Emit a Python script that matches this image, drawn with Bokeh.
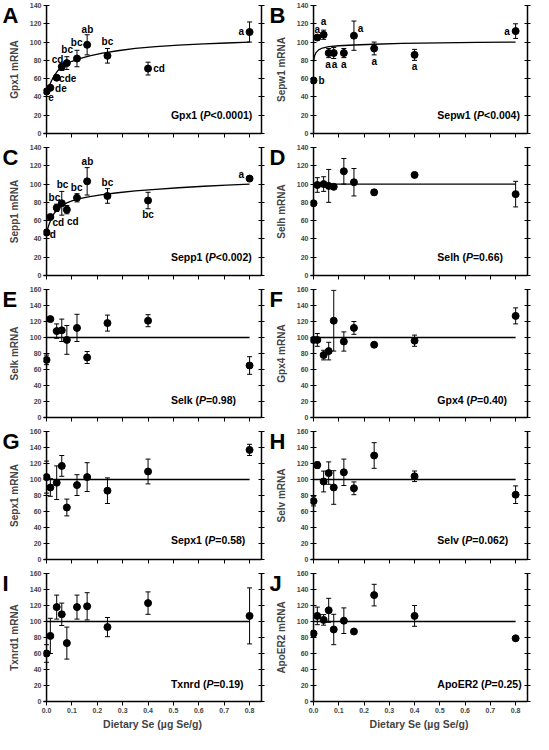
from bokeh.plotting import figure
from bokeh.models import (ColumnDataSource, Whisker, TeeHead, LinearAxis,
                          FixedTicker, Range1d, Span)
from bokeh.layouts import gridplot
from bokeh.core.properties import value
from bokeh.embed import file_html
from bokeh.resources import INLINE

# ---------------- data ----------------
dietary_se = [0.0, 0.015, 0.04, 0.06, 0.08, 0.12, 0.16, 0.24, 0.40, 0.80]
x_ticks = [0.0, 0.1, 0.2, 0.3, 0.4, 0.5, 0.6, 0.7, 0.8]
x_tick_labels = ["0.0", "0.1", "0.2", "0.3", "0.4", "0.5", "0.6", "0.7", "0.8"]

gpx1 = [46, 50, 61, 73, 77, 82, 97, 85, 71, 111]
gpx1_err = [2, 2, 2, 4, 7, 9, 11, 8, 7, 11]
gpx1_letters = ["e", "de", "cde", "cd", "bc", "bc", "ab", "bc", "cd", "a"]
gpx1_fit_x = [0, 0.01, 0.02, 0.03, 0.045, 0.06, 0.08, 0.1, 0.13, 0.17, 0.22, 0.28, 0.35, 0.43, 0.52, 0.62, 0.71, 0.8]
gpx1_fit_y = [45, 52, 58, 63, 69, 73, 76.5, 79, 82, 85, 88, 90.5, 93, 95, 96.7, 98, 99, 100]

sepw1 = [58, 105, 108, 88, 88, 88, 107, 93, 86, 112]
sepw1_err = [2, 2, 5, 5, 6, 5, 16, 7, 6, 8]
sepw1_letters = ["b", "a", "a", "a", "a", "a", "a", "a", "a", "a"]
sepw1_fit_x = [0, 0.002, 0.005, 0.01, 0.02, 0.035, 0.06, 0.1, 0.16, 0.24, 0.35, 0.5, 0.65, 0.8]
sepw1_fit_y = [78, 82, 85.5, 88.5, 91.5, 93.5, 95, 96, 96.8, 97.6, 98.5, 99.2, 99.7, 100]

sepp1 = [47, 64, 74, 79, 72, 85, 103, 87, 82, 106]
sepp1_err = [3, 2, 4, 13, 4.5, 4.5, 15, 8, 9, 2]
sepp1_letters = ["d", "cd", "bc", "bc", "cd", "bc", "ab", "bc", "bc", "a"]
sepp1_fit_x = [0, 0.01, 0.02, 0.03, 0.045, 0.06, 0.08, 0.1, 0.13, 0.17, 0.22, 0.28, 0.35, 0.43, 0.52, 0.62, 0.71, 0.8]
sepp1_fit_y = [47, 56, 63, 68, 73, 76.5, 79.5, 81.5, 84, 86.3, 88.5, 90.5, 92.5, 94.3, 96, 97.6, 98.8, 100]

selh = [79, 99, 100, 98, 97, 114, 102, 91, 110, 89]
selh_err = [2, 8, 8, 18, 2, 14, 15, 3, 0, 14]

selk = [72, 123, 108, 109, 97, 112, 75, 118, 121, 65]
selk_err = [6, 3, 9, 14, 18, 17, 7.5, 10, 7.5, 11]

gpx4 = [97, 97, 78, 83, 121, 95, 112, 91, 96, 127]
gpx4_err = [3, 8, 6, 11, 38, 12, 8, 0, 7, 10]

sepx1 = [103, 90, 96, 117, 65, 93, 103, 86, 110, 137]
sepx1_err = [20, 11, 21, 13, 10.5, 13, 18, 16, 15.5, 7]

selv = [73, 118, 97.5, 108, 90, 109, 89, 130, 104, 81]
selv_err = [6, 4, 13, 14, 21, 16.5, 8, 16, 6.6, 11]

txnrd1 = [60, 82, 118, 109, 73, 118, 119, 93, 123, 107]
txnrd1_err = [11, 22, 15, 14, 20, 15, 17, 12, 14, 35]

apoer2 = [85, 107, 102, 114, 90, 101, 87.5, 133, 107, 79]
apoer2_err = [3, 11, 6.6, 15, 19, 16, 0, 13.5, 13, 0]

ref_x = [0.0, 0.8]
ref_y = [100, 100]

# ---------------- styling helpers ----------------
FONT = "Liberation Sans"
# Arial/Liberation Sans Bold advance widths (per 1000 em)
W = {' ': 278, '(': 333, ')': 333, '.': 278, '<': 584, '=': 584, 'A': 722, 'E': 667,
     'G': 778, 'P': 667, 'R': 722, 'S': 667, 'T': 611, 'd': 611, 'e': 556, 'h': 611,
     'k': 556, 'l': 278, 'n': 611, 'o': 611, 'p': 611, 'r': 389, 'v': 556, 'w': 778,
     'x': 556}
for _d in "0123456789":
    W[_d] = 556


def tw(s, size):
    return sum(W.get(c, 556) for c in s) * size / 1000.0


# label offsets (screen px) for significance letters
offs_A = [(4.5, 6), (10.5, 0.7), (11, 0.3), (-4.3, -7.7), (0.3, -13.5), (-0.3, -16.5),
          (0.3, -15), (0, -14), (11, 0), (-8.3, -0.3)]
offs_B = [(8, 0), (0, -7.7), (0, -13), (-0.7, 11.5), (0.7, 11.5), (0, 11.5),
          (6.7, -6.7), (0, 13), (0, 11.5), (-8.5, 0)]
offs_C = [(6.3, 2.3), (8, 5.7), (-2.3, -10.3), (0.7, -18.5), (6, 11.5), (-0.3, -10.5),
          (0.3, -19.5), (0, -13.5), (0, 13.5), (-8.3, -4.3)]

panels = [
    dict(letter="A", name="Gpx1 (", op="<0.0001)", ylabel="Gpx1 mRNA", y=gpx1, e=gpx1_err,
         ymax=140, fx=gpx1_fit_x, fy=gpx1_fit_y, lab=gpx1_letters, offs=offs_A, ty=20.4),
    dict(letter="B", name="Sepw1 (", op="<0.004)", ylabel="Sepw1 mRNA", y=sepw1, e=sepw1_err,
         ymax=140, fx=sepw1_fit_x, fy=sepw1_fit_y, lab=sepw1_letters, offs=offs_B, ty=20.4),
    dict(letter="C", name="Sepp1 (", op="<0.002)", ylabel="Sepp1 mRNA", y=sepp1, e=sepp1_err,
         ymax=140, fx=sepp1_fit_x, fy=sepp1_fit_y, lab=sepp1_letters, offs=offs_C, ty=20.4),
    dict(letter="D", name="Selh (", op="=0.66)", ylabel="Selh mRNA", y=selh, e=selh_err,
         ymax=140, fx=ref_x, fy=ref_y, lab=None, offs=None, ty=20),
    dict(letter="E", name="Selk (", op="=0.98)", ylabel="Selk mRNA", y=selk, e=selk_err,
         ymax=160, fx=ref_x, fy=ref_y, lab=None, offs=None, ty=22),
    dict(letter="F", name="Gpx4 (", op="=0.40)", ylabel="Gpx4 mRNA", y=gpx4, e=gpx4_err,
         ymax=160, fx=ref_x, fy=ref_y, lab=None, offs=None, ty=22),
    dict(letter="G", name="Sepx1 (", op="=0.58)", ylabel="Sepx1 mRNA", y=sepx1, e=sepx1_err,
         ymax=160, fx=ref_x, fy=ref_y, lab=None, offs=None, ty=24.5),
    dict(letter="H", name="Selv (", op="=0.062)", ylabel="Selv mRNA", y=selv, e=selv_err,
         ymax=160, fx=ref_x, fy=ref_y, lab=None, offs=None, ty=24.5),
    dict(letter="I", name="Txnrd (", op="=0.19)", ylabel="Txnrd1 mRNA", y=txnrd1, e=txnrd1_err,
         ymax=160, fx=ref_x, fy=ref_y, lab=None, offs=None, ty=22),
    dict(letter="J", name="ApoER2 (", op="=0.25)", ylabel="ApoER2 mRNA", y=apoer2, e=apoer2_err,
         ymax=160, fx=ref_x, fy=ref_y, lab=None, offs=None, ty=22),
]

FRAME_H = 128
TXT_SIZE = 10.5
X_LO, X_HI = -0.012, 0.847   # frame starts 3px left of x=0 so markers at x=0 are not clipped


def make_panel(i, d):
    col = i % 2
    bottom = i >= 8
    w = 267 if col == 0 else 266
    h = 166 if bottom else 142
    fw = 218 if col == 0 else 217
    p = figure(width=w, height=h, output_backend="svg", toolbar_location=None,
               x_range=Range1d(X_LO, X_HI), y_range=Range1d(0, d["ymax"]),
               min_border_left=43, min_border_right=w - 43 - fw,
               min_border_top=5, min_border_bottom=h - 5 - FRAME_H)
    p.outline_line_color = None
    p.grid.visible = False
    p.background_fill_color = "white"
    p.border_fill_color = "white"

    # panel letter as the figure title, pulled down beside the frame
    p.title.text = d["letter"]
    p.title.text_font = FONT
    p.title.text_font_style = "bold"
    p.title.text_font_size = "22px"
    p.title.text_color = "black"
    p.title.align = "left"
    p.title.vertical_align = "bottom"
    p.title.offset = -41
    try:
        p.title.standoff = -44
    except Exception:
        pass

    yt = list(range(0, d["ymax"] + 1, 20))

    xa = p.xaxis[0]
    xa.ticker = FixedTicker(ticks=x_ticks)
    xa.major_tick_in = 0
    xa.major_tick_out = 4
    xa.minor_tick_line_color = None
    xa.axis_line_width = 1.5
    xa.major_tick_line_width = 1
    xa.major_label_text_font = FONT
    xa.major_label_text_font_style = "bold"
    xa.major_label_text_font_size = "7px"
    xa.major_label_standoff = 2
    if bottom:
        xa.major_label_overrides = {t: s for t, s in zip(x_ticks, x_tick_labels)}
        xa.axis_label = "Dietary Se (\u00b5g Se/g)"
        xa.axis_label_text_font = FONT
        xa.axis_label_text_font_style = "bold"
        xa.axis_label_text_font_size = "10.5px"
        xa.axis_label_standoff = 2
    else:
        xa.major_label_overrides = {t: "" for t in x_ticks}

    # left axis: line drawn as a span at x=0, ticks cross that line
    ya = p.yaxis[0]
    ya.ticker = FixedTicker(ticks=yt)
    ya.major_tick_in = 6
    ya.major_tick_out = 0
    ya.minor_tick_line_color = None
    ya.axis_line_color = None
    ya.major_label_text_font = FONT
    ya.major_label_text_font_style = "bold"
    ya.major_label_text_font_size = "7px"
    ya.major_label_standoff = 2
    ya.axis_label = d["ylabel"]
    ya.axis_label_text_font = FONT
    ya.axis_label_text_font_style = "bold"
    ya.axis_label_text_font_size = "10px"
    ya.axis_label_standoff = 7
    p.add_layout(Span(location=0, dimension="height", line_color="black", line_width=1.5))

    ra = LinearAxis(ticker=FixedTicker(ticks=yt), major_tick_in=3, major_tick_out=3,
                    minor_tick_line_color=None, axis_line_width=1.5,
                    major_label_overrides={t: "" for t in yt},
                    major_label_text_font_size="7px", major_label_standoff=0)
    p.add_layout(ra, "right")

    # fit / reference line
    p.line(d["fx"], d["fy"], line_color="black", line_width=1.3)

    lower = [v - e for v, e in zip(d["y"], d["e"])]
    upper = [v + e for v, e in zip(d["y"], d["e"])]
    src = ColumnDataSource(dict(x=dietary_se, y=d["y"], lower=lower, upper=upper))
    p.add_layout(Whisker(base="x", lower="lower", upper="upper", source=src,
                         line_color="black", line_width=1,
                         lower_head=TeeHead(size=5, line_width=1, line_color="black"),
                         upper_head=TeeHead(size=5, line_width=1, line_color="black")))
    p.scatter("x", "y", source=src, size=7, color="black")

    if d["lab"] is not None:
        lsrc = ColumnDataSource(dict(x=dietary_se, y=d["y"], t=d["lab"],
                                     dx=[o[0] for o in d["offs"]],
                                     dy=[o[1] for o in d["offs"]]))
        p.text(x="x", y="y", text="t", x_offset="dx", y_offset="dy", source=lsrc,
               text_font=value(FONT), text_font_style="bold", text_font_size="10px",
               text_align="center", text_baseline="middle", text_color="black")

    # gene (P-value) caption with italic P
    x0 = 0.49
    w1 = tw(d["name"], TXT_SIZE)
    w2 = tw("P", TXT_SIZE)
    for txt, off, style in [(d["name"], 0, "bold"), ("P", w1, "bold italic"),
                            (d["op"], w1 + w2, "bold")]:
        p.text(x=[x0], y=[d["ty"]], text=[txt], x_offset=off,
               text_font=value(FONT), text_font_style=style,
               text_font_size=f"{TXT_SIZE}px", text_align="left",
               text_baseline="middle", text_color="black")
    return p


figs = [make_panel(i, d) for i, d in enumerate(panels)]
grid = gridplot(figs, ncols=2, toolbar_location=None)

open("out.html", "w").write(file_html(grid, INLINE))
